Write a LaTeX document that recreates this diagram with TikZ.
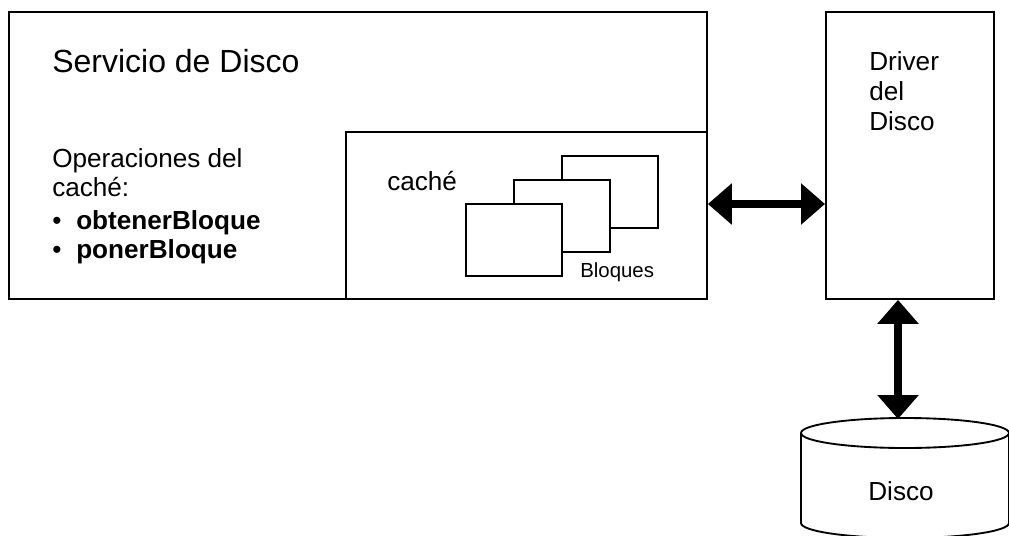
\documentclass[tikz,border=0pt]{standalone}
\usepackage{fontspec}
\setmainfont{Liberation Sans}
\usetikzlibrary{arrows.meta}

\tikzset{
  box/.style={draw, line width=1.4pt, fill=white, inner sep=0pt, anchor=north west},
  lbl/.style={inner sep=0pt, anchor=base west},
  bigtxt/.style={font=\fontsize{24}{28}\selectfont},
  midtxt/.style={font=\fontsize{19.6}{23}\selectfont},
  smalltxt/.style={font=\fontsize{15.3}{18}\selectfont},
  dblarrow/.style={line width=6pt,
    {Triangle[length=18pt,width=30pt]}-{Triangle[length=18pt,width=30pt]}},
}

\begin{document}
\begin{tikzpicture}[x=0.75pt, y=-0.75pt]
\useasboundingbox (0,0) rectangle (1009,535);

% disk service with its cache
\node[box, minimum width=523.5pt, minimum height=215.25pt] (servicio) at (8,11) {};
\node[box, minimum width=270.75pt, minimum height=125.25pt] (cache) at (345,131) {};

\node[lbl, bigtxt] (titulo) at (52,73) {Servicio de Disco};
\node[lbl, midtxt] (ops1) at (52,167) {Operaciones del};
\node[lbl, midtxt] (ops2) at (52,196) {caché:};
\node[lbl, midtxt] (bul1) at (52,229) {•};
\node[lbl, midtxt] (ops3) at (76,229) {\bfseries obtenerBloque};
\node[lbl, midtxt] (bul2) at (52,258) {•};
\node[lbl, midtxt] (ops4) at (76,258) {\bfseries ponerBloque};

\node[lbl, midtxt] (cachelbl) at (387,190) {caché};

% stacked cache blocks
\node[box, minimum width=72pt, minimum height=54pt] (blk3) at (561,155) {};
\node[box, minimum width=72pt, minimum height=54pt] (blk2) at (513,179) {};
\node[box, minimum width=72pt, minimum height=54pt] (blk1) at (465,203) {};
\node[lbl, smalltxt] (bloques) at (580,277) {Bloques};

% disk driver
\node[box, minimum width=126pt, minimum height=215.25pt] (driver) at (825,11) {};
\node[lbl, midtxt] (drv1) at (869,70) {Driver};
\node[lbl, midtxt] (drv2) at (869,100) {del};
\node[lbl, midtxt] (drv3) at (869,130) {Disco};

% disk (cylinder): sides and lower rim, then the top ellipse
\draw[line width=1.4pt, fill=white]
  (801,433) -- (801,523) arc[start angle=180, end angle=0, x radius=104, y radius=15]
  -- (1009,433);
\draw[line width=1.4pt] (905,433) ellipse[x radius=104, y radius=15];
\coordinate (diskT) at (898,419);
\node[inner sep=0pt, anchor=base, midtxt] (disco) at (901,500) {Disco};

% connectors
\coordinate (hy) at (0,204);
\coordinate (vx) at (898,0);
\draw[dblarrow] (cache.east |- hy) -- (driver.west |- hy);
\draw[dblarrow] (driver.south -| vx) -- (diskT);
\end{tikzpicture}
\end{document}
